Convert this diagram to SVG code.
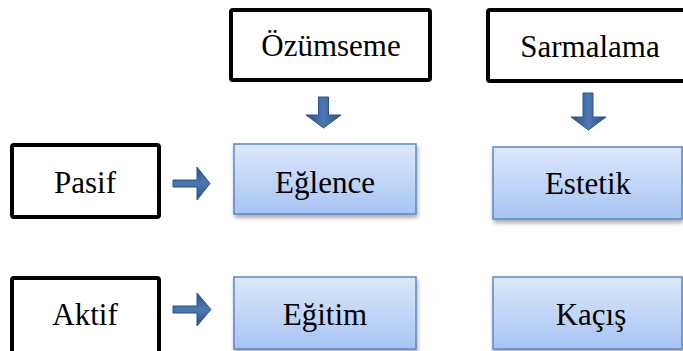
<svg xmlns="http://www.w3.org/2000/svg" width="683" height="351" viewBox="0 0 683 351">
<defs>
<linearGradient id="bg" x1="0" y1="0" x2="0" y2="1">
<stop offset="0" stop-color="#dde8fb"/>
<stop offset="1" stop-color="#a7c4f4"/>
</linearGradient>
<filter id="sh" x="-10%" y="-10%" width="125%" height="135%">
<feDropShadow dx="1" dy="3" stdDeviation="2" flood-color="#000" flood-opacity="0.35"/>
</filter>
<linearGradient id="ag" x1="0" y1="0" x2="1" y2="0">
<stop offset="0" stop-color="#2f5282"/>
<stop offset="0.5" stop-color="#4a78b4"/>
<stop offset="1" stop-color="#2f5282"/>
</linearGradient>
<linearGradient id="agh" x1="0" y1="0" x2="0" y2="1">
<stop offset="0" stop-color="#2f5282"/>
<stop offset="0.5" stop-color="#4a78b4"/>
<stop offset="1" stop-color="#2f5282"/>
</linearGradient>
</defs>
<style>
.bk{fill:#fff;stroke:#000;stroke-width:4}
.bl{fill:url(#bg);stroke:#5b88c4;stroke-width:1.5;filter:url(#sh)}
.t{font-family:'Liberation Serif','Times New Roman',Times,'DejaVu Serif','Noto Serif',serif;font-size:31px;fill:#000;text-anchor:middle}
.av{fill:url(#ag);stroke:#2f5282;stroke-width:1}
.ah{fill:url(#agh);stroke:#2f5282;stroke-width:1}
</style>
<g id="ozumseme"><rect class="bk" x="231" y="10" width="199" height="70" rx="2"/><text class="t" x="331" y="56">Özümseme</text></g>
<g id="sarmalama"><rect class="bk" x="488" y="10" width="205" height="71" rx="2"/><text class="t" x="590" y="57">Sarmalama</text></g>
<g id="pasif"><rect class="bk" x="12" y="145" width="147" height="72" rx="2"/><text class="t" x="85" y="193">Pasif</text></g>
<g id="aktif"><rect class="bk" x="12" y="278" width="147" height="76" rx="2"/><text class="t" x="85" y="325">Aktif</text></g>
<g id="eglence"><rect class="bl" x="234" y="144" width="182" height="70"/><text class="t" x="325" y="193">Eğlence</text></g>
<g id="estetik"><rect class="bl" x="493" y="147" width="189" height="72"/><text class="t" x="588" y="194">Estetik</text></g>
<g id="egitim"><rect class="bl" x="234" y="277" width="182" height="72"/><text class="t" x="325" y="325">Eğitim</text></g>
<g id="kacis"><rect class="bl" x="493" y="277" width="189" height="72"/><text class="t" x="591" y="325">Kaçış</text></g>
<g id="connectors">
<path class="av" d="M318.5,97 H328.5 V115 H341 L323.5,128 L306,115 H318.5 Z"/>
<path class="av" d="M583,93 H593 V117 H606 L588.5,130 L571,117 H583 Z"/>
<path class="ah" d="M173,180 H197 V167 L210,183.5 L197,200 V187 H173 Z"/>
<path class="ah" d="M173,306 H197 V293 L211,309.5 L197,326 V313 H173 Z"/>
</g>
</svg>
